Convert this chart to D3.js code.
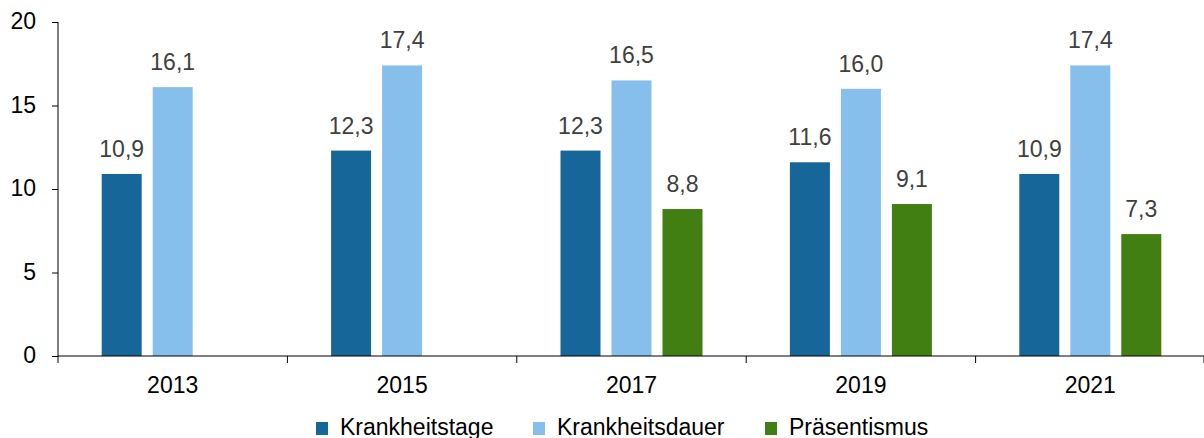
<!DOCTYPE html>
<html>
<head>
<meta charset="utf-8">
<script src="https://cdn.jsdelivr.net/npm/d3@7"></script>
<style>
  body { margin: 0; background: #fff; }
  svg text { font-family: "Liberation Sans", Arial, sans-serif; }
</style>
</head>
<body>
<svg id="chart" width="1204" height="438"></svg>
<script>
// data
const years = ["2013", "2015", "2017", "2019", "2021"];
const seriesNames = ["Krankheitstage", "Krankheitsdauer", "Präsentismus"];
const krankheitstage = [10.9, 12.3, 12.3, 11.6, 10.9];
const krankheitsdauer = [16.1, 17.4, 16.5, 16.0, 17.4];
const praesentismus = [null, null, 8.8, 9.1, 7.3];
const yTicks = [0, 5, 10, 15, 20];
const colors = ["#17669a", "#86bfec", "#427f12"];

const seriesValues = [krankheitstage, krankheitsdauer, praesentismus];

const svg = d3.select("#chart");

const x = d3.scaleBand().domain(years).range([58, 1205]);
const inner = d3.scaleBand().domain(seriesNames).range([-71, 71]).paddingInner(0.2157);
const y = d3.scaleLinear().domain([0, 20]).range([356, 22]);

const fmt = v => d3.format(".1f")(v).replace(".", ",");

// bars
seriesNames.forEach((name, si) => {
  const g = svg.append("g");
  const rows = years.map((yr, i) => ({ yr, v: seriesValues[si][i] })).filter(d => d.v != null);
  g.selectAll("rect").data(rows).join("rect")
    .attr("x", d => x(d.yr) + x.bandwidth() / 2 + inner(name))
    .attr("width", inner.bandwidth())
    .attr("y", d => y(d.v))
    .attr("height", d => y(0) - y(d.v))
    .attr("fill", colors[si]);
  g.selectAll("text").data(rows).join("text")
    .attr("x", d => x(d.yr) + x.bandwidth() / 2 + inner(name) + inner.bandwidth() / 2)
    .attr("y", d => y(d.v) - 17)
    .attr("text-anchor", "middle")
    .attr("font-size", 23)
    .attr("fill", "#404040")
    .text(d => fmt(d.v));
});

// y axis
const yAxis = svg.append("g")
  .attr("transform", "translate(58,0)")
  .call(d3.axisLeft(y).tickValues(yTicks).tickSize(6).tickPadding(16));
yAxis.select(".domain").attr("d", "M0," + y(20) + "V" + y(0)).attr("stroke", "#000");
yAxis.selectAll("text").attr("font-size", 23).attr("fill", "#000")
  .attr("font-family", "Liberation Sans, Arial, sans-serif").attr("dy", "0.3em");

// x axis
const xAxis = svg.append("g")
  .attr("transform", "translate(0," + y(0) + ")")
  .call(d3.axisBottom(x).tickSize(0).tickPadding(21));
xAxis.select(".domain").attr("d", "M58,0H1204").attr("stroke", "#000");
xAxis.selectAll("text").attr("font-size", 23).attr("fill", "#000")
  .attr("font-family", "Liberation Sans, Arial, sans-serif");
// category separators
const seps = years.map(yr => x(yr)).concat([x.range()[1] - 1]);
xAxis.selectAll("line.sep").data(seps).join("line")
  .attr("class", "sep")
  .attr("x1", d => d).attr("x2", d => d)
  .attr("y1", 0).attr("y2", 7)
  .attr("stroke", "#000");

// legend
const legendX = [316, 533, 765];
const legend = svg.append("g");
seriesNames.forEach((name, i) => {
  legend.append("rect")
    .attr("x", legendX[i]).attr("y", 422)
    .attr("width", 12).attr("height", 13)
    .attr("fill", colors[i]);
  legend.append("text")
    .attr("x", legendX[i] + 24).attr("y", 435)
    .attr("font-size", 23).attr("fill", "#000")
    .text(name);
});
</script>
</body>
</html>
